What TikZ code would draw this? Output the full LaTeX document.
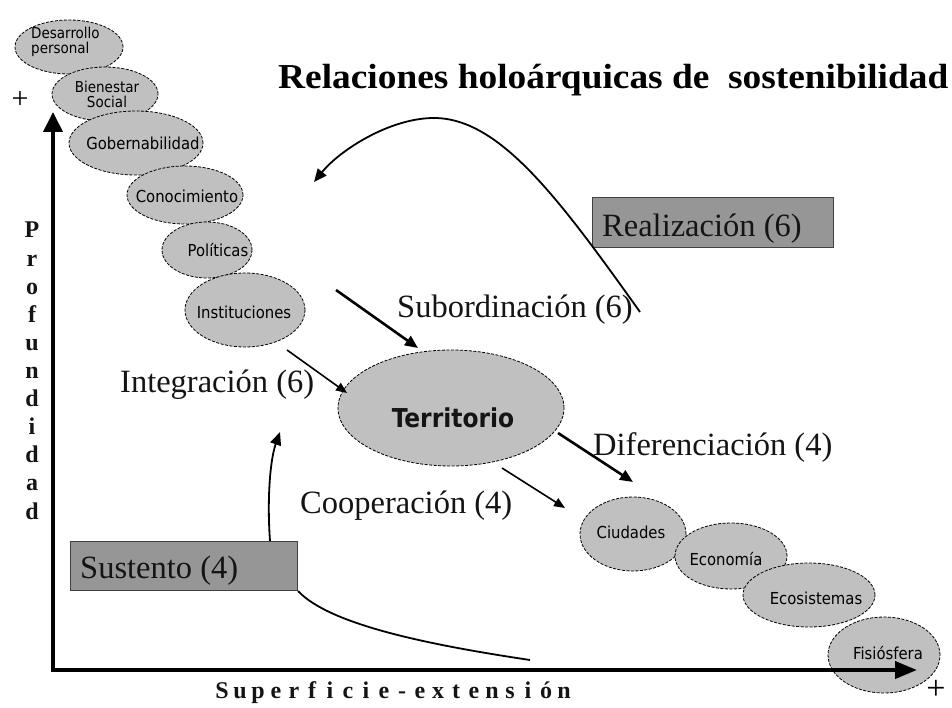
\documentclass[tikz,border=0pt]{standalone}
\usepackage{fontspec}
\usepackage{graphicx}
\setmainfont{Liberation Serif}
\newfontfamily\ellfont{DejaVu Sans Condensed}
\usetikzlibrary{arrows.meta,shapes.geometric}
\definecolor{ellgray}{RGB}{192,192,192}
\definecolor{boxgray}{RGB}{150,150,150}
\definecolor{txt}{RGB}{20,20,20}
\begin{document}
\begin{tikzpicture}[x=1pt,y=-1pt,
  ell/.style={ellipse, draw=black, fill=ellgray, dash pattern=on 3pt off 1.5pt, line width=0.8pt, inner sep=0pt},
  elltxt/.style={font=\ellfont\fontsize{16.5}{14}\selectfont, text=black, align=center, inner sep=0pt},
  twoline/.style={font=\ellfont\fontsize{15}{15}\selectfont},
  lbl/.style={font=\fontsize{32.5}{36}\selectfont, text=txt, anchor=base west, inner sep=0pt},
  gbox/.style={draw=black!75, fill=boxgray, line width=1pt, anchor=north west, inner sep=0pt},
  axisline/.style={line width=4pt, line join=miter, {Triangle[length=20pt,width=19pt]}-{Triangle[length=22pt,width=17pt]}},
  thickarr/.style={line width=2.6pt, -{Triangle[length=13pt,width=11pt]}},
  thinarr/.style={line width=1.6pt, -{Triangle[length=11pt,width=9pt]}},
  curvearr/.style={line width=1.8pt, -{Triangle[length=13pt,width=11pt]}},
  vlet/.style={font=\bfseries\fontsize{24}{24}\selectfont, anchor=base, inner sep=0pt, text=txt},
]
\useasboundingbox[fill=white] (0,0) rectangle (952,708);

% ellipses
\node[ell, minimum width=108pt, minimum height=54pt] (desa) at (69,47) {};
\node[ell, minimum width=106pt, minimum height=54pt] (bien) at (105,94) {};
\node[ell, minimum width=134pt, minimum height=64pt] (gob) at (136,143) {};
\node[ell, minimum width=116pt, minimum height=58pt] (cono) at (185,195) {};
\node[ell, minimum width=90pt, minimum height=56pt] (poli) at (207,250) {};
\node[ell, minimum width=120pt, minimum height=74pt] (inst) at (245,310) {};
\node[ell, minimum width=226pt, minimum height=116pt] (terr) at (451,408) {};
\node[ell, minimum width=106pt, minimum height=74pt] (ciud) at (633,534) {};
\node[ell, minimum width=112pt, minimum height=66pt] (econ) at (731,556) {};
\node[ell, minimum width=132pt, minimum height=64pt] (ecos) at (809,595) {};
\node[ell, minimum width=112pt, minimum height=76pt] (fisi) at (884,655) {};

% ellipse texts
\node[elltxt, twoline, align=left, anchor=west] (desaT) at (31,42) {Desarrollo\\personal};
\node[elltxt, twoline] (bienT) at (107,94) {Bienestar\\Social};
\node[elltxt] (gobT) at (143,143) {Gobernabilidad};
\node[elltxt] (conoT) at (187,196) {Conocimiento};
\node[elltxt] (poliT) at (218,250) {Políticas};
\node[elltxt] (instT) at (244,312) {Instituciones};
\node[font=\ellfont\bfseries\fontsize{26}{26}\selectfont, text=txt, inner sep=0pt] (terrT) at (453,418) {Territorio};
\node[elltxt] (ciudT) at (631,532) {Ciudades};
\node[elltxt] (econT) at (726,559) {Economía};
\node[elltxt] (ecosT) at (816,598) {Ecosistemas};
\node[elltxt] (fisiT) at (888,653) {Fisiósfera};

% title
\node[font=\bfseries\fontsize{35}{40}\selectfont, anchor=base west, inner sep=0pt, text=black] (title) at (278,89) {\scalebox{1.068}[1]{Relaciones holoárquicas de\enspace sostenibilidad}};

% boxes
\node[gbox, minimum width=241pt, minimum height=50pt] (realB) at (592,197) {};
\node[lbl] (realL) at (602,237) {Realización (6)};
\node[gbox, minimum width=227pt, minimum height=49pt] (sustB) at (70,541) {};
\node[lbl] (sustL) at (80,578) {Sustento (4)};

% labels
\node[lbl] (subL) at (397,317) {Subordinación (6)};
\node[lbl] (intL) at (120,392) {Integración (6)};
\node[lbl] (coopL) at (300,513) {Cooperación (4)};
\node[lbl] (difL) at (593,455) {Diferenciación (4)};

% straight arrows
\coordinate (subS) at (336,290); \coordinate (subE) at (418,348);
\draw[thickarr] (subS) -- (subE);
\coordinate (intS) at (287,350); \coordinate (intE) at (347,393);
\draw[thinarr] (intS) -- (intE);
\coordinate (difS) at (558,433); \coordinate (difE) at (633,482);
\draw[thickarr] (difS) -- (difE);
\coordinate (coopS) at (502,468); \coordinate (coopE) at (565,508);
\draw[thinarr] (coopS) -- (coopE);

% curves
\coordinate (realS) at (640,312); \coordinate (realTop) at (434,118); \coordinate (realE) at (314,182);
\draw[curvearr] (realS) .. controls (560,200) and (500,118) .. (realTop) .. controls (390,118) and (340,150) .. (realE);
\coordinate (sustUp) at (270,541); \coordinate (sustTip) at (280,432);
\draw[curvearr] (sustUp) .. controls (267,500) and (270,460) .. (sustTip);
\coordinate (sustEnd) at (530,660);
\draw[line width=1.8pt] (sustB.south east) .. controls (330,625) and (430,645) .. (sustEnd);

% axes
\coordinate (ytip) at (53,112); \coordinate (orig) at (53,670); \coordinate (xtip) at (917,670);
\draw[axisline] (ytip) -- (orig) -- (xtip);
\node[font=\fontsize{30}{30}\selectfont, inner sep=0pt] (plusY) at (20,100) {+};
\node[font=\fontsize{34}{34}\selectfont, inner sep=0pt] (plusX) at (936,690) {+};

% axis titles
\foreach \c [count=\i] in {P,r,o,f,u,n,d,i,d,a,d}
  \node[vlet] (prof\i) at (32,{238+28.1*(\i-1)}) {\c};
\foreach \c [count=\i] in {S,u,p,e,r,f,i,c,i,e,-,e,x,t,e,n,s,i,ó,n}
  \node[vlet] (sup\i) at ({222+18*(\i-1)},698) {\c};
\end{tikzpicture}
\end{document}
